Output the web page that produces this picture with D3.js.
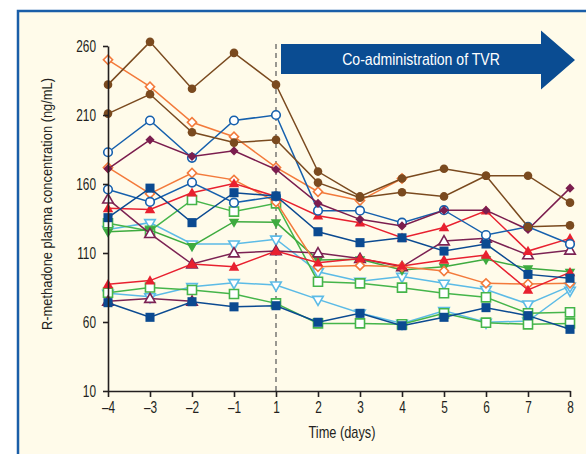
<!DOCTYPE html>
<html>
<head>
<meta charset="utf-8">
<script src="https://cdn.jsdelivr.net/npm/d3@7"></script>
<style>
  body { margin: 0; background: #fff; }
  svg { display: block; }
  text { font-family: "Liberation Sans", Arial, sans-serif; fill: #231f20; }
</style>
</head>
<body>
<svg id="chart" width="586" height="454"></svg>
<script>
// days on the x axis
var days = ["–4", "–3", "–2", "–1", "1", "2", "3", "4", "5", "6", "7", "8"];
var yTicks = [10, 60, 110, 160, 210, 260];

// R-methadone concentrations, one array per subject (null = no point)
var brownA   = [232, 263, 229, 255, 232, 169, 151, 164, 171, 166, 166, 146.5];
var brownB   = [211, 225, 197.5, 190, 192, 161, 150, 154, 151, 166, 129, 130];
var orangeA  = [250, 230.5, 204.7, 194.3, 172, 154.4, 148, 164, null, null, null, null];
var orangeB  = [172, 153, 168, 163, 147, 100, 101, 100, 97, 88, 87.5, 88];
var circleA  = [183, 206, 179, 206, 210, 140.7, 140.7, 132, 141, 123, 129, 116.5];
var circleB  = [156, 147, 161, 146.5, 151, null, null, null, null, null, null, null];
var diamondP = [171, 192, 180, 184, 170.5, 146, 134.4, 129.6, 141, 141, 127, 157];
var triP1    = [149, 124, 102, 110, 111.5, 110, 106, 100, 118.7, 120.6, 108.6, 112];
var triP2    = [75, 77, 75, null, null, null, null, null, null, null, null, null];
var redA     = [142.4, 141.6, 153.7, 160.4, 151, 137, 132, 121, 128.5, 140.6, 111.4, 120.6];
var redB     = [87.3, 90, 102, 100, 111.4, 103, 106, 100.6, 105, 108.6, 83.2, 96];
var squareA  = [135.6, 157, 132, 153.7, 151.3, 125.4, 117.5, 121, 111.4, 116.5, 94.5, 91.7];
var squareB  = [74, 63.4, 74.7, 71, 71.8, 59.8, 66.3, 57.3, 63.4, 70.4, 64.6, 54.7];
var greenSqA = [131.5, 126, 148.4, 140, 146, 89.2, 88, 84.9, 80.8, 77.9, 66.3, 67];
var greenSqB = [81.2, 85, 83.2, 80.3, 73.5, 59, 59, 58.3, 66.3, 59.5, 58.3, 59];
var greenTri = [125.4, 126.7, 115, 132.7, 132.2, 105, 105.5, 97.7, 100, 105.5, 98.9, 96.4];
var lblueA   = [127, 132, 116.5, 116.5, 120, 96.4, 89.5, 93, 88, 83.5, 73, 86];
var lblueB   = [80.8, 78.3, 85.6, 88.5, 86.8, 76.4, 66.5, 59, 68.2, 59.8, 60.7, 83];

var series = [
  { v: lblueB,   c: "#5cbbe6", m: "tridown", open: true },
  { v: lblueA,   c: "#5cbbe6", m: "tridown", open: true },
  { v: greenSqB, c: "#45b54a", m: "square", open: true },
  { v: greenSqA, c: "#45b54a", m: "square", open: true },
  { v: greenTri, c: "#3eab3f", m: "tridown", open: false },
  { v: triP2,    c: "#7c2253", m: "triup", open: true },
  { v: triP1,    c: "#7c2253", m: "triup", open: true },
  { v: orangeB,  c: "#f37a3b", m: "diamond", open: true },
  { v: orangeA,  c: "#f37a3b", m: "diamond", open: true },
  { v: redB,     c: "#e8202f", m: "triup", open: false },
  { v: redA,     c: "#e8202f", m: "triup", open: false },
  { v: circleB,  c: "#1660ad", m: "circle", open: true },
  { v: circleA,  c: "#1660ad", m: "circle", open: true },
  { v: diamondP, c: "#7b1d4e", m: "diamond", open: false },
  { v: brownB,   c: "#7a4a1f", m: "circle", open: false },
  { v: brownA,   c: "#7a4a1f", m: "circle", open: false },
  { v: squareB,  c: "#0b4a91", m: "square", open: false },
  { v: squareA,  c: "#0b4a91", m: "square", open: false }
];

var svg = d3.select("#chart");

// panel
svg.append("rect").attr("x", 18).attr("y", 11).attr("width", 600).attr("height", 480)
  .attr("fill", "#fffbea").attr("stroke", "#1a5ea8").attr("stroke-width", 2.5);

var x = d3.scalePoint().domain(days).range([108, 570]);
var y = d3.scaleLinear().domain([10, 260]).range([391, 46]);

// banner arrow
svg.append("path")
  .attr("d", d3.line()([[281, 44], [541, 44], [541, 30.5], [575, 60], [541, 89.5], [541, 74], [281, 74]]) + "Z")
  .attr("fill", "#0a4c92");
svg.append("text").attr("transform", "translate(421,65) scale(0.88,1)").attr("text-anchor", "middle")
  .style("font-size", "16px").style("fill", "#fff").text("Co-administration of TVR");

// start of co-administration
svg.append("line").attr("x1", x("1")).attr("x2", x("1")).attr("y1", 44).attr("y2", 391)
  .attr("stroke", "#555").attr("stroke-width", 1.2).attr("stroke-dasharray", "5,4");

var line = d3.line()
  .defined(function(d) { return d != null; })
  .x(function(d, i) { return x(days[i]); })
  .y(function(d) { return y(d); });

var shapes = {
  circle: d3.symbol().type(d3.symbolCircle).size(58),
  square: d3.symbol().type(d3.symbolSquare).size(82),
  triup: d3.symbol().type(d3.symbolTriangle).size(48),
  tridown: d3.symbol().type(d3.symbolTriangle).size(48),
  diamond: d3.symbol().type(d3.symbolSquare).size(42)
};

series.forEach(function(s) {
  var g = svg.append("g");
  g.append("path").attr("d", line(s.v)).attr("fill", "none")
    .attr("stroke", s.c).attr("stroke-width", 1.5);
  var pts = s.v.map(function(d, i) { return { d: d, i: i }; }).filter(function(p) { return p.d != null; });
  var sw = s.open ? 1.6 : 0;
  g.selectAll("path.mk").data(pts).enter().append("path")
    .attr("class", "mk")
    .attr("d", shapes[s.m]())
    .attr("transform", function(p) {
      var t = "translate(" + x(days[p.i]) + "," + y(p.d) + ")";
      if (s.m == "tridown") t += " rotate(180)";
      else if (s.m == "diamond") t += " rotate(45)";
      else if (s.m == "triup") t += " translate(0,0.8)";
      return t;
    })
    .attr("fill", s.open ? "#fff" : s.c)
    .attr("stroke", s.c).attr("stroke-width", sw);
});

// axes
var sx = 0.74;
var xAxis = svg.append("g").attr("transform", "translate(0,391)")
  .call(d3.axisBottom(x).tickSize(6).tickSizeOuter(0).tickPadding(5));
var yAxis = svg.append("g").attr("transform", "translate(108,0)")
  .call(d3.axisLeft(y).tickValues(yTicks).tickSize(5).tickSizeOuter(0).tickPadding(7));
[xAxis, yAxis].forEach(function(a) {
  a.selectAll("path, line").attr("stroke", "#231f20").attr("stroke-width", 1.6);
  a.selectAll("text").style("font-size", "16px").style("font-family", null).attr("fill", null)
    .attr("transform", "scale(" + sx + ",1)");
});
yAxis.selectAll("text").attr("x", -12 / sx);

svg.append("text").attr("transform", "translate(342,438) scale(0.8,1)").attr("text-anchor", "middle")
  .style("font-size", "16px").text("Time (days)");
svg.append("text").attr("transform", "translate(52,204) rotate(-90) scale(0.86,1)").attr("text-anchor", "middle")
  .style("font-size", "15px").text("R-methadone plasma concentration (ng/mL)");
</script>
</body>
</html>
